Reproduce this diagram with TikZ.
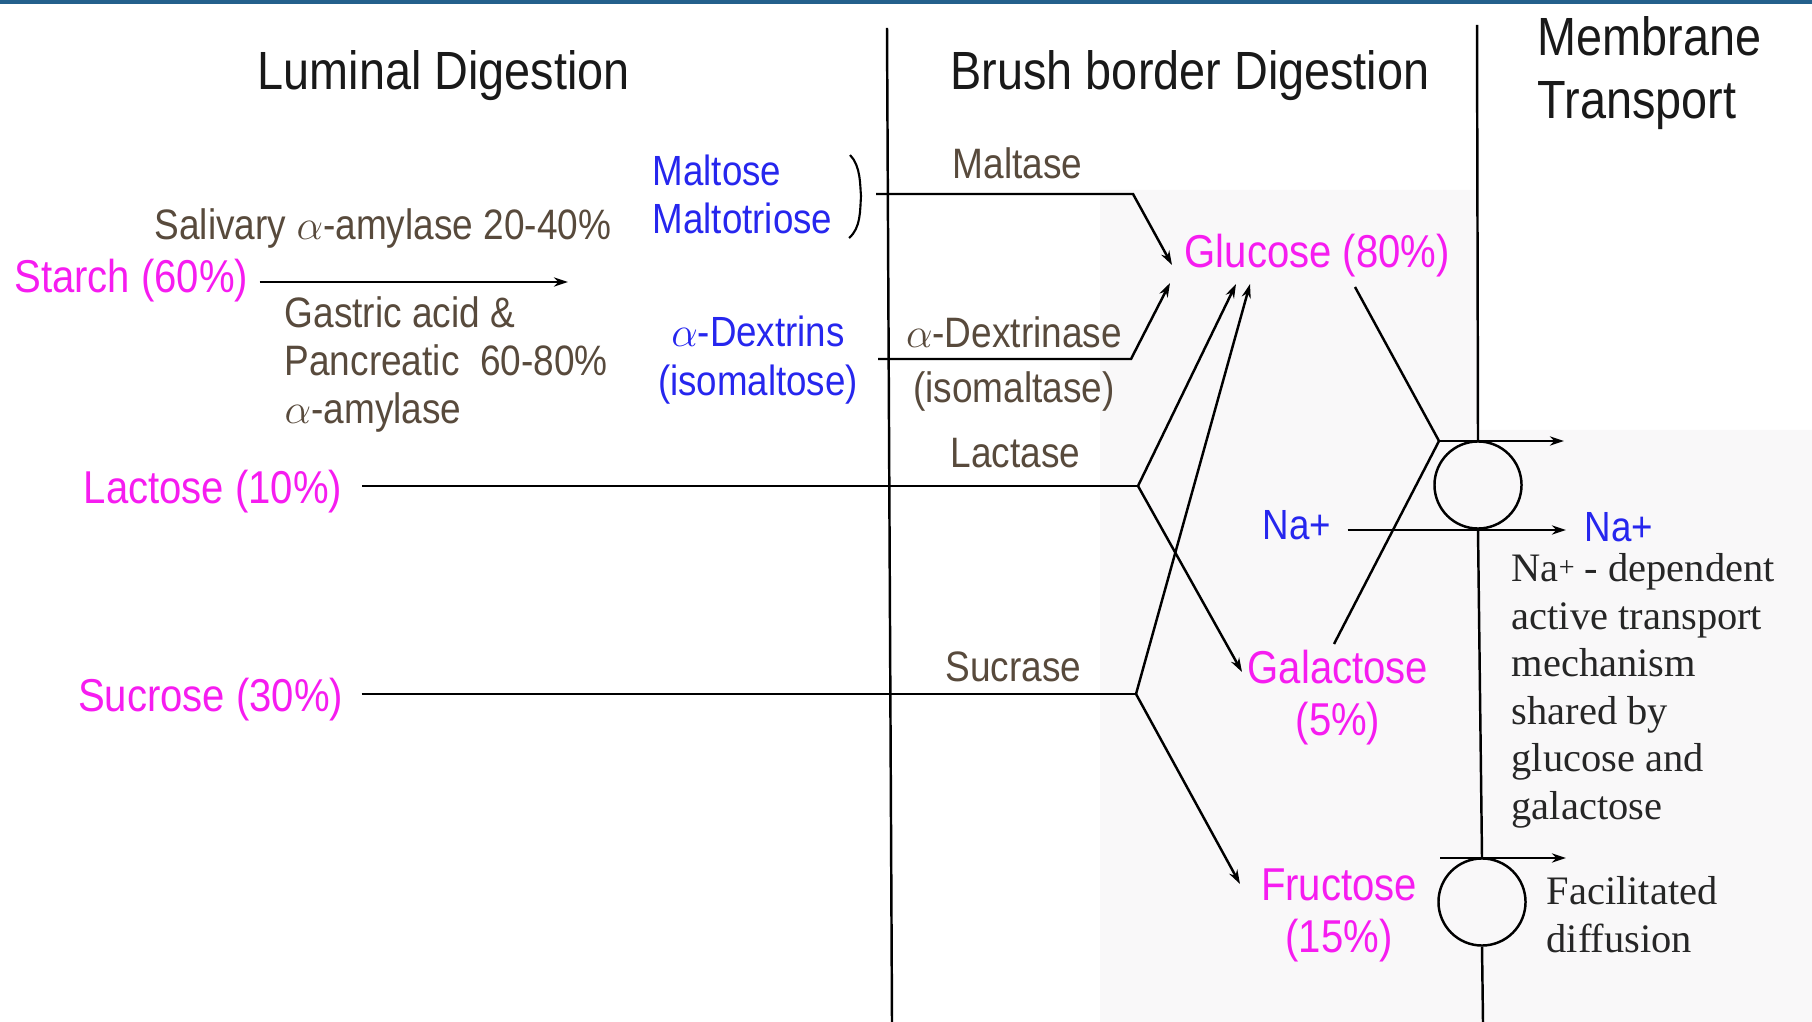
\documentclass[tikz,border=0pt]{standalone}
\usepackage{fontspec}
\setmainfont{Liberation Sans}[FakeStretch=0.87]
\newfontfamily\notefont{Liberation Serif}
\usetikzlibrary{arrows.meta}
\definecolor{sugarpink}{RGB}{246,28,240}
\definecolor{prodblue}{RGB}{38,38,238}
\definecolor{enzbrown}{RGB}{88,74,60}
\definecolor{frameblue}{RGB}{36,96,140}
\definecolor{scanbg}{RGB}{249,248,249}
\begin{document}
\begin{tikzpicture}[x=0.01cm,y=-0.01cm]
\tikzstyle{every node}+=[inner sep=0pt]
\tikzstyle{title}=[font=\fontsize{15.3}{17.9}\selectfont, text=black!90]
\tikzstyle{sugar}=[font=\fontsize{13.1}{14.8}\selectfont, text=sugarpink]
\tikzstyle{enzyme}=[font=\fontsize{12.1}{13.6}\selectfont, text=enzbrown]
\tikzstyle{product}=[font=\fontsize{12}{13.8}\selectfont, text=prodblue]
\tikzstyle{note}=[font=\notefont\fontsize{11.5}{13.5}\selectfont, text=black!85, align=left]
\tikzstyle{link}=[line width=0.7pt]
\tikzstyle{arr}=[link, -{Stealth[length=4pt,width=2.6pt]}]
\tikzstyle{carrier}=[draw, circle, minimum size=0.87cm, line width=0.7pt]
\useasboundingbox (0,0) rectangle (1812,1022);
\fill[scanbg] (1100,190) -- (1477,190) -- (1477,430) -- (1812,430) -- (1812,1022) -- (1100,1022) -- cycle;
\fill[frameblue] (0,0) rectangle (1812,4);
% column titles
\node[title, anchor=base west] (lumtitle) at (257,90) {Luminal Digestion};
\node[title, anchor=base west] (bbtitle) at (950,90) {Brush border Digestion};
\node[title, anchor=north west, align=left] (memtitle) at (1537,16) {Membrane\\Transport};
\coordinate (lwtop) at (887,28);
\coordinate (lwbot) at (892,1022);
\draw[link] (lwtop) -- (lwbot);
% luminal digestion
\node[sugar, anchor=east] (starch) at (249,281) {Starch (60\%)};
\coordinate (starchend) at (568,282);
\draw[arr, shorten <=3pt] (starch.east |- starchend) -- (starchend);
\node[enzyme, anchor=base west] (saliv) at (154,240) {Salivary $\alpha$-amylase 20-40\%};
\node[enzyme, anchor=north west, align=left] (panc) at (284,296) {Gastric acid \&\\Pancreatic\ \ 60-80\%\\$\alpha$-amylase};
\node[product, anchor=north west, align=left] (maltose) at (652,154) {Maltose\\Maltotriose};
\draw[line width=0.6pt] (850,155) .. controls (861,166) and (860,186) .. (861,196) .. controls (860,210) and (861,228) .. (849,238);
\node[product, align=center] (dextrins) at (758,360) {$\alpha$-Dextrins\\(isomaltose)};
\node[sugar, anchor=east] (lactose) at (343,492) {Lactose (10\%)};
\node[sugar, anchor=east] (sucrose) at (344,700) {Sucrose (30\%)};
% brush border
\node[enzyme, anchor=base west] (maltase) at (952,179) {Maltase};
\node[enzyme, align=center] (dextrinase) at (1014,364) {$\alpha$-Dextrinase\\[2pt](isomaltase)};
\node[enzyme, anchor=base west] (lactase) at (950,468) {Lactase};
\node[enzyme, anchor=base west] (sucrase) at (945,682) {Sucrase};
\node[sugar, anchor=base west] (glucose) at (1184,268) {Glucose (80\%)};
\node[sugar, align=center] (galactose) at (1338,698) {Galactose\\(5\%)};
\node[sugar, align=center] (fructose) at (1339,915) {Fructose\\(15\%)};
\coordinate (maltin) at (876,194);
\coordinate (maltj) at (1133,194);
\coordinate (gluA) at (1172,265);
\coordinate (dexin) at (878,359);
\coordinate (dexj) at (1131,359);
\coordinate (gluB) at (1170,283);
\coordinate (lacj) at (1138,486);
\coordinate (gluC) at (1236,284);
\coordinate (galA) at (1242,672);
\coordinate (sucj) at (1136,694);
\coordinate (gluD) at (1250,284);
\coordinate (fruA) at (1240,884);
\draw[arr] (maltin) -- (maltj) -- (gluA);
\draw[arr] (dexin) -- (dexj) -- (gluB);
\draw[link, shorten <=5.5pt] (lactose.east |- lacj) -- (lacj);
\draw[arr] (lacj) -- (gluC);
\draw[arr] (lacj) -- (galA);
\draw[link, shorten <=5pt] (sucrose.east |- sucj) -- (sucj);
\draw[arr] (sucj) -- (gluD);
\draw[arr] (sucj) -- (fruA);
% membrane transport
\coordinate (walltop) at (1477,25);
\node[carrier] (sglt) at (1478,485) {};
\node[carrier] (glut) at (1482,902) {};
\coordinate (wallbot) at (1483,1022);
\draw[link] (walltop) -- (sglt.north);
\draw[link] (sglt.south) -- (glut.north);
\draw[link] (glut.south) -- (wallbot);
\coordinate (gluE) at (1355,287);
\coordinate (galB) at (1334,644);
\coordinate (sgltin) at (1439,441);
\coordinate (sgltout) at (1564,441);
\draw[link] (gluE) -- (sgltin);
\draw[link] (galB) -- (sgltin);
\draw[arr] (sgltin) -- (sgltout);
\node[product, anchor=base west] (nain) at (1262,540) {Na+};
\node[product, anchor=base west] (naout) at (1584,542) {Na+};
\coordinate (naend) at (1566,530);
\draw[arr, shorten <=4.5pt] (nain.east |- naend) -- (naend);
\coordinate (glutin) at (1440,858);
\coordinate (glutout) at (1566,858);
\draw[arr] (glutin) -- (glutout);
\node[note, anchor=north west] (sglttext) at (1511,553) {Na\raisebox{0.3ex}{\footnotesize+} - dependent\\active transport\\mechanism\\shared by\\glucose and\\galactose};
\node[note, anchor=north west] (gluttext) at (1546,876) {Facilitated\\diffusion};
\end{tikzpicture}
\end{document}
